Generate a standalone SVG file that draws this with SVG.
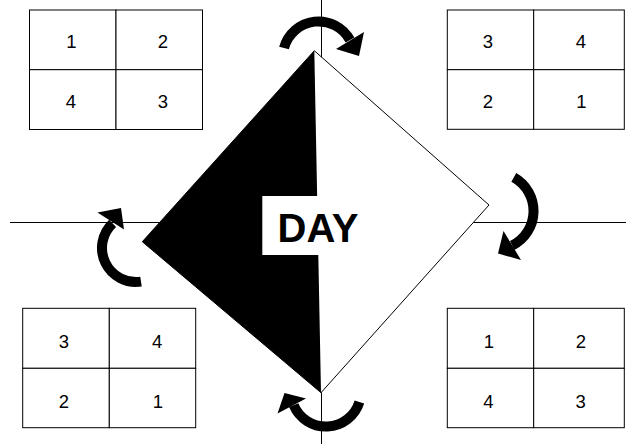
<svg xmlns="http://www.w3.org/2000/svg" width="626" height="444" viewBox="0 0 626 444">
<style>
.cell{fill:#fff;stroke:#000;stroke-width:1}
.num{font-family:"Liberation Sans",Arial,sans-serif;font-size:18.5px;fill:#000;text-anchor:middle}
.band{fill:none;stroke:#000;stroke-width:10;stroke-linecap:butt}
.head{fill:#000;stroke:none}
.axis{stroke:#000;stroke-width:1;fill:none}
</style>
<rect width="626" height="444" fill="#fff"/>
<g id="axes">
<line class="axis" x1="10" y1="222.5" x2="626" y2="222.5"/>
<line class="axis" x1="321.5" y1="0" x2="321.5" y2="444"/>
</g>
<g id="diamond">
<polygon points="314.3,50.7 489,205 321,392.7 142.3,241.7" fill="#fff" stroke="#000" stroke-width="1"/>
<polygon points="314.3,50.7 142.3,241.7 321,392.7" fill="#000"/>
<rect x="262.3" y="196" width="112" height="59" fill="#fff"/>
<text x="318" y="241.7" font-family="'Liberation Sans',Arial,sans-serif" font-size="40" font-weight="bold" text-anchor="middle" fill="#000">DAY</text>
</g>
<g id="table-top-left">
<rect class="cell" x="29.5" y="10" width="86.5" height="59.7"/>
<rect class="cell" x="116" y="10" width="86.5" height="59.7"/>
<rect class="cell" x="29.5" y="69.7" width="86.5" height="59.8"/>
<rect class="cell" x="116" y="69.7" width="86.5" height="59.8"/>
<text class="num" x="71.3" y="48.3">1</text>
<text class="num" x="162.8" y="48.3">2</text>
<text class="num" x="70.8" y="108.3">4</text>
<text class="num" x="162.8" y="108.3">3</text>
</g>
<g id="table-top-right">
<rect class="cell" x="447.3" y="10" width="86.4" height="59.7"/>
<rect class="cell" x="533.7" y="10" width="90.6" height="59.7"/>
<rect class="cell" x="447.3" y="69.7" width="86.4" height="59.6"/>
<rect class="cell" x="533.7" y="69.7" width="90.6" height="59.6"/>
<text class="num" x="488" y="48.3">3</text>
<text class="num" x="580.8" y="48.3">4</text>
<text class="num" x="488" y="108.3">2</text>
<text class="num" x="581.5" y="108.3">1</text>
</g>
<g id="table-bottom-left">
<rect class="cell" x="22.7" y="308.3" width="86.6" height="60"/>
<rect class="cell" x="109.3" y="308.3" width="86.4" height="60"/>
<rect class="cell" x="22.7" y="368.3" width="86.6" height="59.4"/>
<rect class="cell" x="109.3" y="368.3" width="86.4" height="59.4"/>
<text class="num" x="63.8" y="348.3">3</text>
<text class="num" x="157.2" y="348.3">4</text>
<text class="num" x="63.8" y="408.3">2</text>
<text class="num" x="157.9" y="408.3">1</text>
</g>
<g id="table-bottom-right">
<rect class="cell" x="447.3" y="308.3" width="86.4" height="60"/>
<rect class="cell" x="533.7" y="308.3" width="90.6" height="60"/>
<rect class="cell" x="447.3" y="368.3" width="86.4" height="59.4"/>
<rect class="cell" x="533.7" y="368.3" width="90.6" height="59.4"/>
<text class="num" x="489" y="348.3">1</text>
<text class="num" x="580.8" y="348.3">2</text>
<text class="num" x="488.3" y="408.3">4</text>
<text class="num" x="580.7" y="408.3">3</text>
</g>
<g id="connectors">
<path class="band" d="M284,48 A35.8,35.8 0 0 1 350,40"/>
<polygon class="head" points="364,32 336,49 359,56"/>
<path class="band" d="M513.8,177.4 A38.5,38.5 0 0 1 512.2,245.5"/>
<polygon class="head" points="503.5,231 521,260 498,253.5"/>
<path class="band" d="M141,281.6 A34,34 0 0 1 112.6,223.3"/>
<polygon class="head" points="97.5,212.5 124,229.5 121,208"/>
<path class="band" d="M359.4,402 A35,35 0 0 1 293.7,405.1"/>
<polygon class="head" points="277.5,413.5 306,398.5 284.5,393"/>
</g>
</svg>
